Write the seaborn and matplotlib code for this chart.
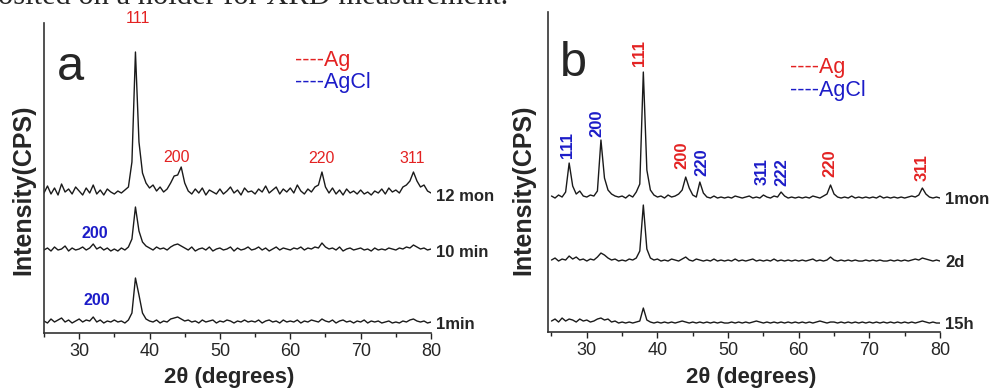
import numpy as np
import matplotlib
matplotlib.use("Agg")
import matplotlib.pyplot as plt
from matplotlib.ticker import MultipleLocator
import seaborn as sns

# Grille 2theta commune (pas de 0.5 degre)
two_theta = np.arange(25.0, 80.01, 0.5)

# Panneau a : intensites (au-dessus de la ligne de base)
a_12mon = [4, 11, 3, 9, 2, 13, 5, 8, 3, 10,
           6, 2, 9, 4, 12, 3, 7, 2, 8, 5,
           3, 6, 4, 7, 10, 35, 145, 55, 24, 14,
           9, 12, 6, 10, 5, 8, 14, 21, 22, 30,
           14, 6, 3, 8, 4, 9, 2, 7, 5, 3,
           8, 3, 6, 10, 4, 7, 2, 9, 5, 6,
           3, 8, 5, 11, 4, 7, 10, 3, 8, 5,
           9, 4, 12, 6, 3, 8, 5, 10, 12, 25,
           10, 4, 9, 3, 7, 2, 8, 4, 6, 3,
           7, 3, 5, 2, 6, 4, 8, 3, 9, 5,
           7, 4, 10, 12, 16, 25, 16, 10, 12, 6,
           4]
a_10min = [3, 5, 2, 6, 3, 4, 7, 2, 5, 3,
           4, 6, 3, 5, 9, 4, 6, 3, 5, 2,
           4, 2, 5, 3, 6, 14, 46, 22, 11, 7,
           5, 3, 6, 4, 5, 3, 6, 8, 9, 7,
           5, 3, 6, 2, 4, 5, 3, 6, 2, 4,
           5, 3, 4, 6, 2, 5, 3, 4, 6, 3,
           4, 6, 3, 5, 2, 4, 6, 3, 5, 4,
           3, 5, 4, 6, 3, 5, 4, 6, 5, 10,
           6, 4, 5, 3, 6, 2, 4, 5, 3, 4,
           5, 3, 4, 2, 5, 3, 4, 3, 5, 4,
           3, 5, 4, 6, 5, 8, 6, 4, 5, 3,
           4]
a_1min = [4, 2, 6, 3, 5, 7, 3, 5, 2, 4,
          6, 3, 5, 4, 8, 3, 5, 2, 4, 3,
          5, 3, 4, 2, 5, 12, 47, 30, 12, 6,
          4, 3, 5, 2, 4, 3, 6, 7, 8, 6,
          4, 5, 3, 4, 2, 5, 3, 4, 5, 2,
          4, 3, 5, 4, 2, 4, 3, 5, 3, 4,
          3, 5, 2, 4, 5, 3, 4, 2, 5, 3,
          4, 3, 5, 2, 4, 3, 5, 4, 3, 6,
          4, 3, 5, 2, 4, 5, 3, 4, 2, 4,
          3, 5, 2, 4, 3, 4, 2, 3, 4, 2,
          3, 2, 4, 3, 5, 6, 4, 3, 4, 2,
          3]
a_names = ['12 mon', '10 min', '1min']
a_offsets = [136, 80, 8]

# Panneau b
b_1mon = [4, 2, 5, 3, 8, 37, 14, 6, 9, 4,
          3, 5, 4, 9, 60, 22, 10, 6, 4, 3,
          4, 2, 5, 3, 8, 16, 128, 30, 10, 5,
          3, 4, 2, 5, 3, 4, 6, 10, 23, 12,
          5, 3, 18, 7, 3, 2, 4, 2, 3, 2,
          3, 2, 4, 3, 2, 3, 4, 2, 3, 2,
          5, 3, 2, 4, 3, 8, 4, 2, 3, 2,
          3, 2, 3, 2, 4, 3, 2, 4, 6, 15,
          6, 3, 2, 3, 2, 4, 2, 3, 2, 3,
          2, 3, 2, 4, 2, 3, 2, 3, 2, 3,
          2, 3, 4, 3, 5, 12, 6, 3, 2, 3,
          2]
b_2d = [3, 5, 2, 4, 3, 7, 4, 6, 3, 4,
        2, 4, 3, 6, 10, 8, 5, 3, 4, 2,
        3, 2, 4, 3, 5, 12, 58, 14, 5, 3,
        4, 2, 3, 2, 4, 3, 2, 4, 6, 3,
        2, 4, 3, 2, 3, 2, 4, 2, 3, 2,
        3, 2, 4, 2, 3, 2, 3, 4, 2, 3,
        2, 3, 2, 4, 2, 3, 2, 3, 2, 3,
        2, 3, 2, 3, 4, 2, 3, 2, 3, 6,
        3, 2, 3, 2, 3, 2, 3, 2, 2, 3,
        2, 3, 2, 3, 2, 2, 3, 2, 3, 2,
        3, 2, 3, 4, 3, 5, 4, 3, 2, 3,
        2]
b_15h = [4, 6, 3, 7, 4, 6, 5, 3, 6, 4,
         5, 3, 4, 6, 7, 5, 6, 3, 4, 2,
         3, 2, 3, 2, 3, 4, 17, 5, 3, 2,
         3, 2, 3, 2, 3, 2, 3, 4, 3, 2,
         3, 2, 3, 2, 3, 2, 3, 2, 3, 2,
         2, 3, 2, 3, 2, 3, 2, 3, 4, 3,
         2, 3, 2, 3, 2, 3, 2, 3, 2, 3,
         2, 3, 2, 3, 2, 3, 4, 3, 2, 3,
         3, 2, 3, 2, 3, 2, 3, 2, 3, 2,
         3, 2, 3, 2, 3, 2, 3, 2, 3, 2,
         3, 2, 3, 2, 3, 4, 3, 2, 3, 2,
         2]
b_names = ['1mon', '2d', '15h']
b_offsets = [132, 69, 7]

# Indices des pics (texte, 2theta, hauteur du texte, phase)
a_peak_text = ['111', '200', '220', '311', '200', '200']
a_peak_x = [38.3, 43.9, 64.4, 77.3, 32.2, 32.5]
a_peak_y = [315, 176, 175, 175, 100, 33]
a_peak_phase = ['Ag', 'Ag', 'Ag', 'Ag', 'AgCl', 'AgCl']

b_peak_text = ['111', '200', '111', '200', '220', '311', '222', '220', '311']
b_peak_x = [27.3, 31.4, 37.5, 43.5, 46.3, 54.8, 57.6, 64.4, 77.5]
b_peak_y = [187, 209, 279, 177, 170, 160, 160, 169, 164]
b_peak_phase = ['AgCl', 'AgCl', 'Ag', 'Ag', 'AgCl', 'AgCl', 'AgCl', 'Ag', 'Ag']

red = '#e32222'
blue = '#1c1cc8'
phase_color = {'Ag': red, 'AgCl': blue}

sns.set_theme(style='ticks')
plt.rcParams['font.family'] = ['Liberation Sans', 'DejaVu Sans']

fig = plt.figure(figsize=(9.9, 3.92), dpi=100)
ax_a = fig.add_axes([0.0444, 0.1505, 0.3910, 0.7908])
ax_b = fig.add_axes([0.5535, 0.1530, 0.3960, 0.8163])


def trace_panneau(ax, curves, names, offsets, xlim, ylim):
    for values, name, off in zip(curves, names, offsets):
        sns.lineplot(x=two_theta, y=np.array(values) + off, color='#1a1a1a',
                     linewidth=1.0, ax=ax)
        ax.text(80.7, off + 1, name, fontsize=12, fontweight='bold',
                ha='left', va='center', clip_on=False)
    ax.set_xlim(*xlim)
    ax.set_ylim(*ylim)
    ax.set_yticks([])
    ax.xaxis.set_major_locator(MultipleLocator(10))
    ax.xaxis.set_minor_locator(MultipleLocator(5))
    ax.tick_params(axis='x', which='major', length=4.5, width=1, pad=3,
                   labelsize=13, color='#222')
    ax.tick_params(axis='x', which='minor', length=3, width=1, color='#222')
    sns.despine(ax=ax)
    for s in ['left', 'bottom']:
        ax.spines[s].set_color('#333')
        ax.spines[s].set_linewidth(1.2)
    ax.set_xlabel('')
    ax.set_ylabel('')


trace_panneau(ax_a, [a_12mon, a_10min, a_1min], a_names, a_offsets, (25, 80), (0, 310))
trace_panneau(ax_b, [b_1mon, b_2d, b_15h], b_names, b_offsets, (24.5, 80), (0, 320))

# Indices de Miller panneau a
for t, x, y, ph in zip(a_peak_text, a_peak_x, a_peak_y, a_peak_phase):
    ax_a.text(x, y, t, color=phase_color[ph], fontsize=11.5,
              fontweight='bold' if ph == 'AgCl' else 'normal',
              ha='center', va='center', clip_on=False)

# Indices de Miller panneau b (verticaux)
for t, x, y, ph in zip(b_peak_text, b_peak_x, b_peak_y, b_peak_phase):
    ax_b.text(x, y, t, color=phase_color[ph], fontsize=12, fontweight='bold',
              rotation=90, ha='center', va='center', clip_on=False)

# Legendes texte
ax_a.text(60.6, 273, '----Ag', color=red, fontsize=15.5, ha='left', va='center')
ax_a.text(60.6, 251, '----AgCl', color=blue, fontsize=15.5, ha='left', va='center')
ax_b.text(58.8, 265, '----Ag', color=red, fontsize=15.5, ha='left', va='center')
ax_b.text(58.8, 242, '----AgCl', color=blue, fontsize=15.5, ha='left', va='center')

# Lettres des panneaux
ax_a.text(26.8, 266, 'a', fontsize=35, ha='left', va='center')
ax_b.text(26.2, 269, 'b', fontsize=35, ha='left', va='center')

# Titres des axes
for xc in [23 / 990, 523 / 990]:
    fig.text(xc, 1 - 190 / 392, 'Intensity(CPS)', rotation=90, fontsize=18,
             fontweight='bold', ha='center', va='center')
fig.text(229 / 990, 1 - 378 / 392, '2\u03b8 (degrees)', fontsize=16,
         fontweight='bold', ha='center', va='center')
fig.text(751 / 990, 1 - 378 / 392, '2\u03b8 (degrees)', fontsize=16,
         fontweight='bold', ha='center', va='center')

# Texte coupe en haut de l'image
fig.text(-0.002, 1 - 4 / 392, 'osited on a holder for XRD measurement.',
         family=['Liberation Serif', 'DejaVu Serif'], fontsize=22,
         ha='left', va='baseline')

fig.savefig('out.png', dpi=100)
